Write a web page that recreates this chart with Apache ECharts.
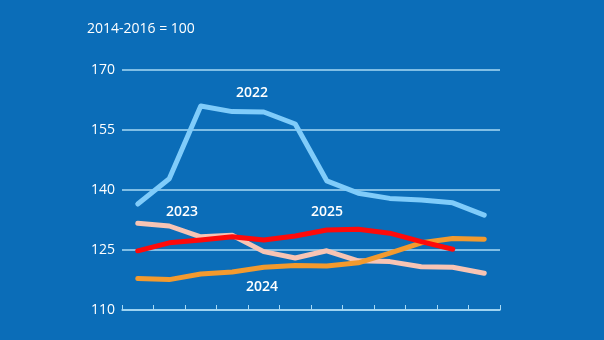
<!DOCTYPE html>
<html><head><meta charset="utf-8">
<script src="https://cdn.jsdelivr.net/npm/echarts@6/dist/echarts.min.js"></script>
<style>html,body{margin:0;padding:0;background:#0b6db8;}#c{width:604px;height:340px;}</style>
</head><body><div id="c"></div>
<script>
var months = ['1','2','3','4','5','6','7','8','9','10','11','12'];
var y2022 = [136.5, 142.8, 161.0, 159.6, 159.5, 156.5, 142.3, 139.2, 137.9, 137.5, 136.8, 133.7];
var y2023 = [131.7, 131.0, 128.3, 128.7, 124.6, 123.0, 124.8, 122.3, 122.1, 120.8, 120.7, 119.2];
var y2024 = [117.9, 117.6, 119.0, 119.5, 120.7, 121.1, 121.0, 121.8, 124.2, 126.8, 127.9, 127.7];
var y2025 = [124.8, 126.8, 127.5, 128.3, 127.5, 128.5, 130.0, 130.2, 129.2, 127.1, 125.2];
var yTicks = [110, 125, 140, 155, 170];
var subtitle = '2014-2016 = 100';
var seriesLabels = ['2022', '2023', '2024', '2025'];

var font = '"Open Sans", "Noto Sans", sans-serif';
var chart = echarts.init(document.getElementById('c'));
function line(name, data, color) {
  return {name: name, type: 'line', data: data, symbol: 'none', smooth: false,
    lineStyle: {color: color, width: 5, cap: 'round', join: 'round'}};
}
function lab(t, x, y) {
  return {type: 'text', x: x, y: y, style: {text: t, fill: '#ffffff', font: '600 14px ' + font, align: 'center', verticalAlign: 'middle'}};
}
chart.setOption({
  backgroundColor: '#0b6db8',
  animation: false,
  grid: {left: 122, right: 104, top: 70, bottom: 30, containLabel: false},
  xAxis: {type: 'category', data: months, boundaryGap: true,
    axisLine: {show: true, lineStyle: {color: '#a8daf5', width: 1.5}},
    axisTick: {show: true, inside: true, length: 5, lineStyle: {color: '#a8daf5', width: 1}},
    axisLabel: {show: false}, splitLine: {show: false}},
  yAxis: {type: 'value', min: yTicks[0], max: yTicks[yTicks.length-1], interval: 15,
    axisLine: {show: false}, axisTick: {show: false},
    axisLabel: {color: '#ffffff', fontFamily: '"Open Sans", "Noto Sans", sans-serif', fontSize: 14, margin: 7},
    splitLine: {lineStyle: {color: '#a8daf5', width: 1.5}}},
  series: [
    line(seriesLabels[1], y2023, '#f7c4b4'),
    line(seriesLabels[2], y2024, '#f39a2e'),
    line(seriesLabels[3], y2025, '#ff0a0a'),
    line(seriesLabels[0], y2022, '#80ccfa')
  ],
  graphic: [
    {type: 'text', left: 87, top: 22, style: {text: subtitle, fill: '#ffffff', font: '14px ' + font}},
    lab(seriesLabels[0], 252, 93),
    lab(seriesLabels[1], 182, 212),
    lab(seriesLabels[2], 262, 287),
    lab(seriesLabels[3], 327, 212)
  ]
});
</script></body></html>
